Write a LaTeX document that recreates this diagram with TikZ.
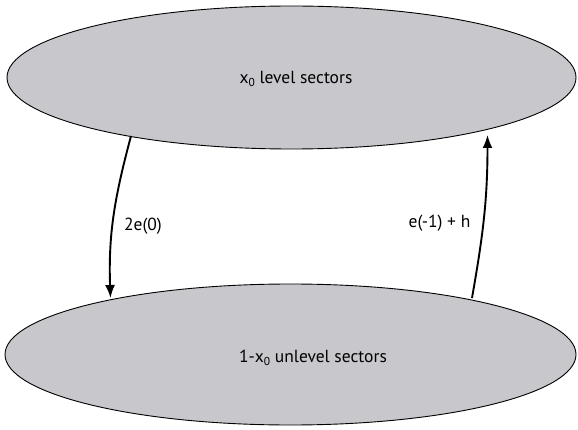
\documentclass[tikz,border=0pt]{standalone}
\usepackage{fontspec}
\setmainfont{PT Sans}
\usetikzlibrary{shapes.geometric,arrows.meta}
\definecolor{sectorgray}{RGB}{200,199,204}
\newcommand{\subz}{\raisebox{-0.4ex}{\fontsize{11.5}{13}\selectfont 0}}
\tikzset{
  sector/.style={ellipse, draw=black, line width=0.9pt, fill=sectorgray, inner sep=0pt, outer sep=0pt},
  lbl/.style={font=\fontsize{17.5}{21}\selectfont, inner sep=0pt},
  flow/.style={line width=1.9pt, -{Latex[length=13pt,width=10pt]}}
}
\begin{document}
\begin{tikzpicture}[x=1pt,y=1pt]
\useasboundingbox (0,0) rectangle (578,429);
\node[sector, minimum width=569pt, minimum height=143pt] (top) at (291.5,351.5) {};
\node[sector, minimum width=571pt, minimum height=141pt] (bot) at (290.5,74.5) {};
\node[lbl] (toplbl) at (296,350) {x\subz\ level sectors};
\node[lbl] (botlbl) at (313,71) {1-x\subz\ unlevel sectors};
\coordinate (s1) at (131,293);
\coordinate (e1) at (110.5,131);
\coordinate (s2) at (472,131);
\coordinate (e2) at (487.5,294);
\draw[flow] (s1) to[out=255, in=92] (e1);
\draw[flow] (s2) to[out=80, in=-90] (e2);
\node[lbl] (a) at (143,203) {2e(0)};
\node[lbl] (b) at (439.5,206) {e(-1) + h};
\end{tikzpicture}
\end{document}
